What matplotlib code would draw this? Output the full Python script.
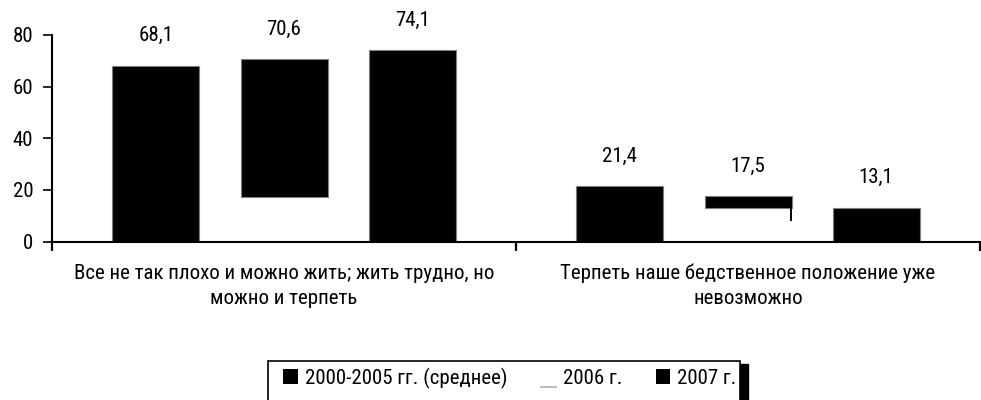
import numpy as np
import matplotlib
matplotlib.use('Agg')
import matplotlib.pyplot as plt
from matplotlib.patches import Patch, Rectangle
from matplotlib.lines import Line2D
from matplotlib.legend_handler import HandlerBase

plt.rcParams['font.family'] = ['Liberation Sans Narrow', 'Arial Narrow', 'Roboto Condensed',
                               'PT Sans Narrow', 'Liberation Sans', 'DejaVu Sans']

# data
categories = ['Все не так плохо и можно жить; жить трудно, но\nможно и терпеть',
              'Терпеть наше бедственное положение уже\nневозможно']
series = ['2000-2005 гг. (среднее)', '2006 г.', '2007 г.']
v_avg = [68.1, 21.4]
v_2006 = [70.6, 17.5]
v_2007 = [74.1, 13.1]
# the 2006 bars are only drawn above these levels in the original
low_2006 = [17.4, 12.8]
tail_2006 = 8.2  # thin stroke under the second 2006 bar
yticks = [0, 20, 40, 60, 80]


class UnderlineHandler(HandlerBase):
    def create_artists(self, legend, orig_handle, xdescent, ydescent,
                       width, height, fontsize, trans):
        y = -ydescent - 0.2 * height
        ln = Line2D([-xdescent, -xdescent + width], [y, y],
                    color='#b5b5b5', lw=1.3, transform=trans)
        return [ln]


fig = plt.figure(figsize=(9.81, 4.0), dpi=100)
ax = fig.add_axes([52/981, 1 - 241.5/400, 928/981, 206.5/400])

x = np.arange(len(categories))
w = 0.1875
off = 0.276
ec = '#7f7f7f'

ax.bar(x - off, v_avg, w, color='black', edgecolor=ec, lw=0.8)
h2006 = [v - b for v, b in zip(v_2006, low_2006)]
ax.bar(x, h2006, w, bottom=low_2006, color='black', edgecolor=ec, lw=0.8)
ax.plot([x[1] + w/2 - 0.002] * 2, [tail_2006, low_2006[1]], color='black', lw=1.4)
ax.bar(x + off, v_2007, w, color='black', edgecolor=ec, lw=0.8)

fs = 15
for xs, vals in [(x - off, v_avg), (x, v_2006), (x + off, v_2007)]:
    for xi, v in zip(xs, vals):
        ax.annotate(('%.1f' % v).replace('.', ','), (xi, v), xytext=(0, 15),
                    textcoords='offset points', ha='center', va='bottom',
                    fontsize=fs)

ax.set_xlim(-0.5, 1.5)
ax.set_ylim(0, 80)
ax.set_yticks(yticks)
ax.tick_params(axis='y', labelsize=fs, length=6.5, width=1.2, pad=7)

ax.set_xticks([-0.5, 0.5, 1.5])
ax.set_xticklabels([])
ax.set_xticks(x, minor=True)
ax.set_xticklabels(categories, minor=True, fontsize=fs, linespacing=1.4)
ax.tick_params(axis='x', which='major', length=6.5, width=1.6, direction='out')
ax.tick_params(axis='x', which='minor', length=0, pad=16)

for s in ['top', 'right']:
    ax.spines[s].set_visible(False)
for s in ['left', 'bottom']:
    ax.spines[s].set_linewidth(1.5)

# legend frame with shadow, cut off by the lower edge
fig.add_artist(Rectangle((276/981, -0.1), 472/981, 0.1 + 1 - 364/400,
                         transform=fig.transFigure, facecolor='black',
                         edgecolor='black', zorder=1))
fig.add_artist(Rectangle((268/981, -0.1), 472/981, 0.1 + 1 - 361/400,
                         transform=fig.transFigure, facecolor='white',
                         edgecolor='black', lw=1.2, zorder=2))

h_2006 = Line2D([], [])
handles = [Patch(facecolor='black'), h_2006, Patch(facecolor='black')]
leg = fig.legend(handles, series, loc='center', ncol=3,
                 bbox_to_anchor=(510/981, 1 - 378/400), frameon=False,
                 fontsize=fs, handlelength=0.7, handleheight=0.7,
                 handletextpad=0.35, columnspacing=1.6,
                 handler_map={h_2006: UnderlineHandler()})
leg.set_zorder(3)

fig.savefig('out.png', dpi=100)
